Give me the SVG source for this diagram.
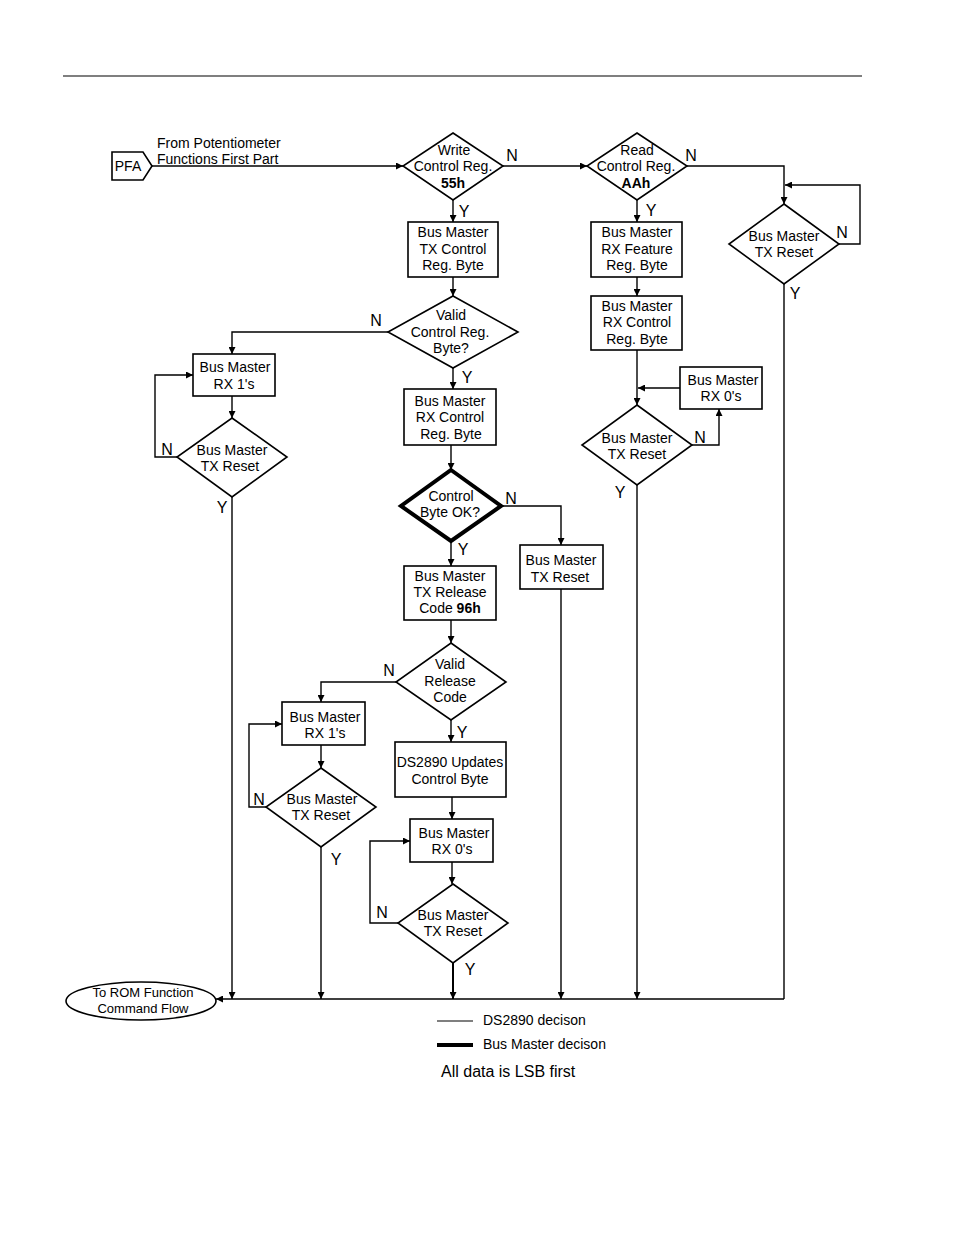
<svg xmlns="http://www.w3.org/2000/svg" width="954" height="1235" viewBox="0 0 954 1235">
<defs>
<marker id="ah" viewBox="0 0 10 10" refX="10" refY="5" markerWidth="7" markerHeight="7" markerUnits="userSpaceOnUse" orient="auto"><path d="M0,0 L10,5 L0,10 z" fill="#000"/></marker>
<style>
text{font-family:"Liberation Sans",Arial,sans-serif;font-size:14px;fill:#000;text-anchor:middle}
.l{text-anchor:start}
.b{font-weight:bold}
.yn{font-size:16px}
.sm{font-size:13px}
.shape{fill:#fff;stroke:#000;stroke-width:1.6}
.thick{fill:#fff;stroke:#000;stroke-width:4}
.c{fill:none;stroke:#000;stroke-width:1.4}
.a{fill:none;stroke:#000;stroke-width:1.4;marker-end:url(#ah)}
.lab{font-size:16px;text-anchor:start}
</style>
</defs>
<rect width="954" height="1235" fill="#fff"/>
<line x1="63" y1="76" x2="862" y2="76" stroke="#000" stroke-width="1.2"/>

<g id="connectors">
<path class="a" d="M152,166 H403"/>
<path class="a" d="M503,166 H587"/>
<path class="a" d="M687,166 H784 V204"/>
<path class="a" d="M839,244 H860 V185 H785"/>
<path class="c" d="M784,284 V999"/>
<path class="a" d="M453,200 V222"/>
<path class="a" d="M453,277 V296"/>
<path class="a" d="M388,332 H232 V354"/>
<path class="a" d="M232,396 V418"/>
<path class="a" d="M177,457 H155 V375 H193"/>
<path class="a" d="M232,497 V999"/>
<path class="a" d="M453,368 V389"/>
<path class="a" d="M451,445 V470"/>
<path class="a" d="M501,506 H561 V545"/>
<path class="a" d="M561,589 V999"/>
<path class="a" d="M451,541 V566"/>
<path class="a" d="M451,620 V643"/>
<path class="a" d="M396,682 H321 V702"/>
<path class="a" d="M321,745 V768"/>
<path class="a" d="M266,807 H249 V724 H282"/>
<path class="a" d="M321,847 V999"/>
<path class="a" d="M451,720 V742"/>
<path class="a" d="M452,797 V819"/>
<path class="a" d="M452,862 V884"/>
<path class="a" d="M398,923 H370 V841 H410"/>
<path class="a" d="M453,963 V999" style="stroke-width:2"/>
<path class="a" d="M637,200 V222"/>
<path class="a" d="M637,277 V296"/>
<path class="a" d="M637,350 V405"/>
<path class="a" d="M680,388 H638"/>
<path class="a" d="M692,445 H719 V409"/>
<path class="a" d="M637,485 V999"/>
<path class="a" d="M784,999 H216"/>
</g>

<g id="labels" class="yn">
<text class="yn" x="512" y="161">N</text>
<text class="yn" x="691" y="161">N</text>
<text class="yn" x="842" y="238">N</text>
<text class="yn" x="795" y="299">Y</text>
<text class="yn" x="464" y="217">Y</text>
<text class="yn" x="651" y="216">Y</text>
<text class="yn" x="376" y="326">N</text>
<text class="yn" x="467" y="383">Y</text>
<text class="yn" x="167" y="455">N</text>
<text class="yn" x="222" y="513">Y</text>
<text class="yn" x="511" y="504">N</text>
<text class="yn" x="463" y="555">Y</text>
<text class="yn" x="389" y="676">N</text>
<text class="yn" x="462" y="738">Y</text>
<text class="yn" x="259" y="805">N</text>
<text class="yn" x="336" y="865">Y</text>
<text class="yn" x="382" y="918">N</text>
<text class="yn" x="470" y="975">Y</text>
<text class="yn" x="700" y="443">N</text>
<text class="yn" x="620" y="498">Y</text>
</g>

<g id="pfa">
<path class="shape" d="M112,152 H143 L152,166 L143,180 H112 Z"/>
<text x="128" y="171">PFA</text>
<text class="l" x="157" y="148">From Potentiometer</text>
<text class="l" x="157" y="164">Functions First Part</text>
</g>

<g id="write">
<path class="shape" d="M453,133 L503,166 L453,200 L403,166 Z"/>
<text x="454" y="155">Write</text>
<text x="453" y="171">Control Reg.</text>
<text x="453" y="188" class="b">55h</text>
</g>

<g id="read">
<path class="shape" d="M637,133 L687,166 L637,200 L587,166 Z"/>
<text x="637" y="155">Read</text>
<text x="636" y="171">Control Reg.</text>
<text x="636" y="188" class="b">AAh</text>
</g>

<g id="reset-right">
<path class="shape" d="M784,204 L839,244 L784,284 L729,244 Z"/>
<text x="784" y="241">Bus Master</text>
<text x="784" y="257">TX Reset</text>
</g>

<g id="tx-ctrl">
<rect class="shape" x="408" y="222" width="90" height="55"/>
<text x="453" y="237">Bus Master</text>
<text x="453" y="254">TX Control</text>
<text x="453" y="270">Reg. Byte</text>
</g>

<g id="valid-ctrl">
<path class="shape" d="M453,296 L518,332 L453,368 L388,332 Z"/>
<text x="451" y="320">Valid</text>
<text x="450" y="337">Control Reg.</text>
<text x="451" y="353">Byte?</text>
</g>

<g id="rx1-a">
<rect class="shape" x="193" y="354" width="82" height="42"/>
<text x="235" y="372">Bus Master</text>
<text x="234" y="389">RX 1's</text>
</g>

<g id="reset-a">
<path class="shape" d="M232,418 L287,457 L232,497 L177,457 Z"/>
<text x="232" y="455">Bus Master</text>
<text x="230" y="471">TX Reset</text>
</g>

<g id="rx-ctrl">
<rect class="shape" x="404" y="389" width="92" height="56"/>
<text x="450" y="406">Bus Master</text>
<text x="450" y="422">RX Control</text>
<text x="451" y="439">Reg. Byte</text>
</g>

<g id="ctrl-ok">
<path class="thick" d="M451,470 L501,506 L451,541 L401,506 Z"/>
<text x="451" y="501">Control</text>
<text x="450" y="517">Byte OK?</text>
</g>

<g id="reset-b">
<rect class="shape" x="520" y="545" width="83" height="44"/>
<text x="561" y="565">Bus Master</text>
<text x="560" y="582">TX Reset</text>
</g>

<g id="release">
<rect class="shape" x="404" y="566" width="92" height="54"/>
<text x="450" y="581">Bus Master</text>
<text x="450" y="597">TX Release</text>
<text x="450" y="613">Code <tspan class="b">96h</tspan></text>
</g>

<g id="valid-rel">
<path class="shape" d="M451,643 L506,682 L451,720 L396,682 Z"/>
<text x="450" y="669">Valid</text>
<text x="450" y="686">Release</text>
<text x="450" y="702">Code</text>
</g>

<g id="rx1-b">
<rect class="shape" x="282" y="702" width="83" height="43"/>
<text x="325" y="722">Bus Master</text>
<text x="325" y="738">RX 1's</text>
</g>

<g id="reset-c">
<path class="shape" d="M321,768 L376,807 L321,847 L266,807 Z"/>
<text x="322" y="804">Bus Master</text>
<text x="321" y="820">TX Reset</text>
</g>

<g id="updates">
<rect class="shape" x="395" y="742" width="111" height="55"/>
<text x="450" y="767">DS2890 Updates</text>
<text x="450" y="784">Control Byte</text>
</g>

<g id="rx0-a">
<rect class="shape" x="410" y="819" width="83" height="43"/>
<text x="454" y="838">Bus Master</text>
<text x="452" y="854">RX 0's</text>
</g>

<g id="reset-d">
<path class="shape" d="M453,884 L508,923 L453,963 L398,923 Z"/>
<text x="453" y="920">Bus Master</text>
<text x="453" y="936">TX Reset</text>
</g>

<g id="rx-feature">
<rect class="shape" x="591" y="222" width="91" height="55"/>
<text x="637" y="237">Bus Master</text>
<text x="637" y="254">RX Feature</text>
<text x="637" y="270">Reg. Byte</text>
</g>

<g id="rx-ctrl2">
<rect class="shape" x="591" y="296" width="91" height="54"/>
<text x="637" y="311">Bus Master</text>
<text x="637" y="327">RX Control</text>
<text x="637" y="344">Reg. Byte</text>
</g>

<g id="rx0-b">
<rect class="shape" x="680" y="367" width="82" height="42"/>
<text x="723" y="385">Bus Master</text>
<text x="721" y="401">RX 0's</text>
</g>

<g id="reset-e">
<path class="shape" d="M637,405 L692,445 L637,485 L582,445 Z"/>
<text x="637" y="443">Bus Master</text>
<text x="637" y="459">TX Reset</text>
</g>

<g id="rom">
<ellipse class="shape" cx="141" cy="1001" rx="75" ry="19"/>
<text class="sm" x="143" y="997">To ROM Function</text>
<text class="sm" x="143" y="1013">Command Flow</text>
</g>

<g id="legend">
<line x1="437" y1="1021" x2="473" y2="1021" stroke="#000" stroke-width="1.2"/>
<text class="l" x="483" y="1025">DS2890 decison</text>
<line x1="437" y1="1045" x2="473" y2="1045" stroke="#000" stroke-width="4"/>
<text class="l" x="483" y="1049">Bus Master decison</text>
<text class="lab" x="441" y="1077">All data is LSB first</text>
</g>
</svg>
